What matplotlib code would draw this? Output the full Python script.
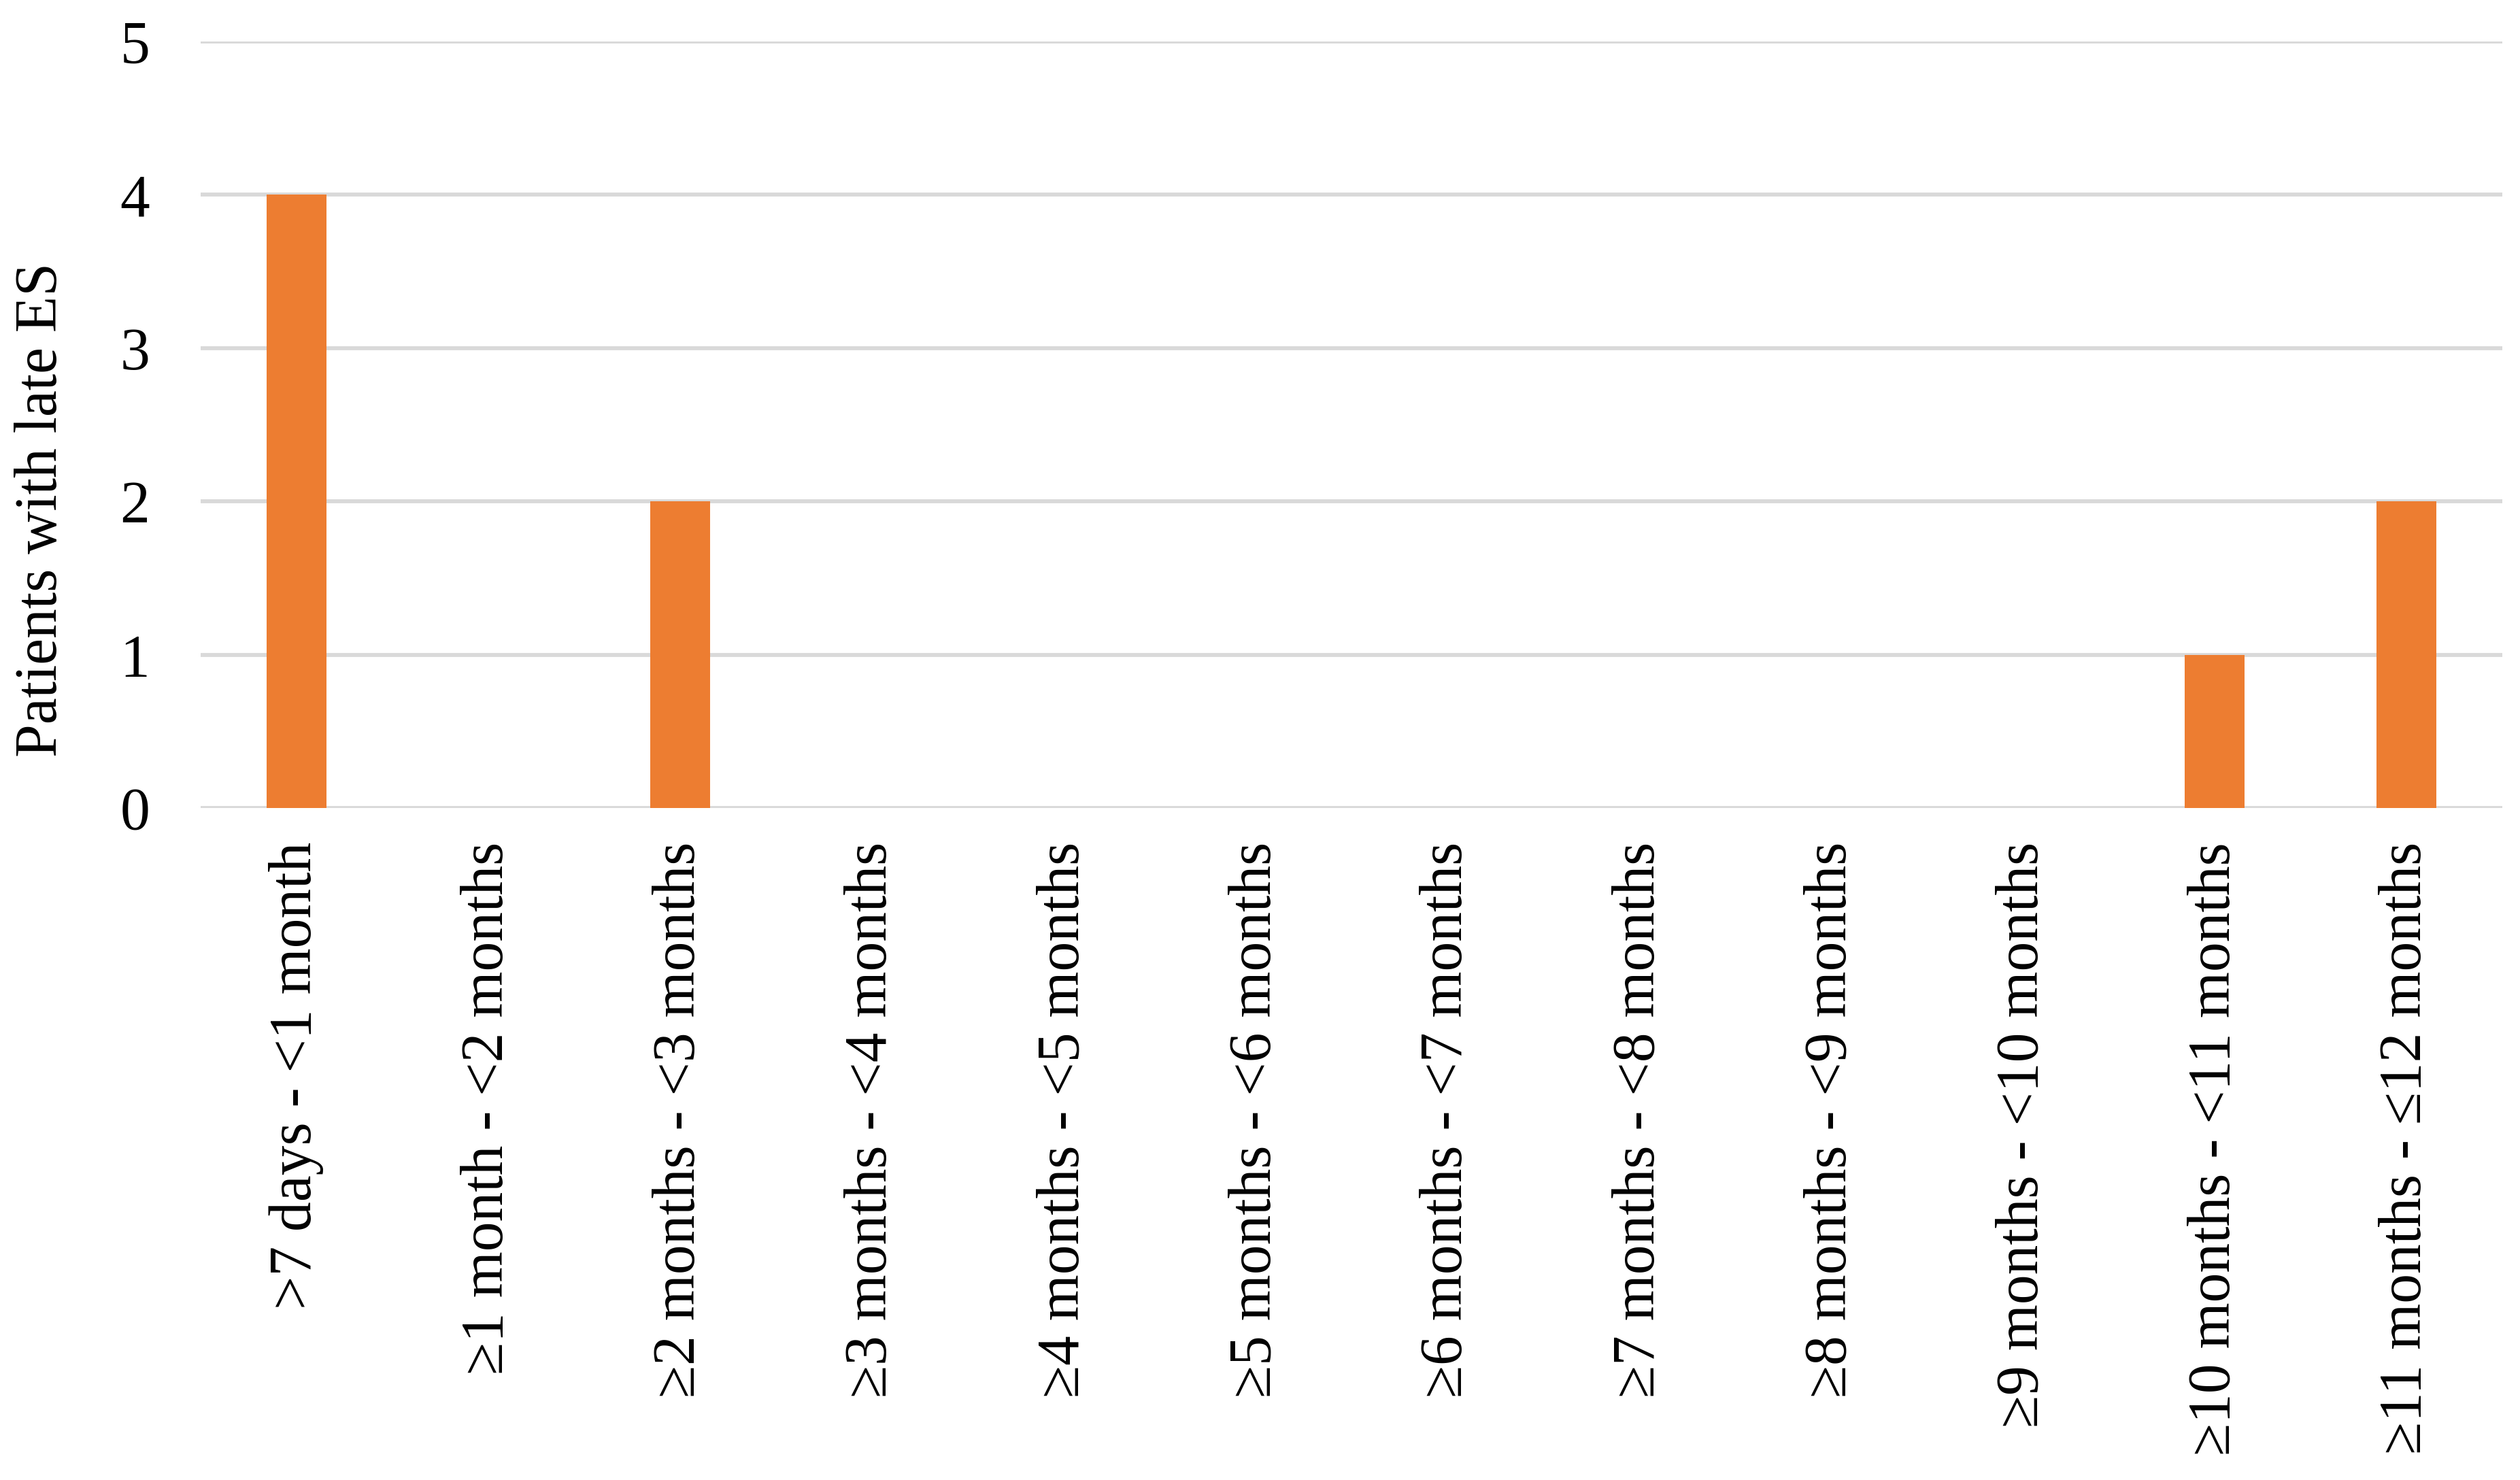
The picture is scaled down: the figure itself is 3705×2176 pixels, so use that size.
import matplotlib
matplotlib.use("Agg")
import matplotlib.pyplot as plt

plt.rcParams['font.family'] = ['Liberation Serif', 'DejaVu Serif']

categories = [
    ">7 days - <1 month",
    "≥1 month - <2 months",
    "≥2 months - <3 months",
    "≥3 months - <4 months",
    "≥4 months - <5 months",
    "≥5 months - <6 months",
    "≥6 months - <7 months",
    "≥7 months - <8 months",
    "≥8 months - <9 months",
    "≥9 months - <10 months",
    "≥10 months - <11 months",
    "≥11 months - ≤12 months",
]
patients = [4, 0, 2, 0, 0, 0, 0, 0, 0, 0, 1, 2]
yticks = [0, 1, 2, 3, 4, 5]
ylabel = "Patients with late ES"

W, H, DPI = 3705, 2176, 300
fig = plt.figure(figsize=(W / DPI, H / DPI), dpi=DPI)
ax = fig.add_axes([295 / W, 1 - 1188 / H, (3679 - 295) / W, (1188 - 61) / H])

x = list(range(len(categories)))
ax.bar(x, patients, width=0.315, color="#ED7D31", zorder=3)

ax.set_xlim(-0.5, len(categories) - 0.5)
ax.set_ylim(0, 5)
ax.set_yticks(yticks)
ax.set_yticklabels([str(t) for t in yticks], fontsize=21)
ax.set_xticks(x)
ax.set_xticklabels(categories, rotation=90, fontsize=21, ha="center", va="top")
ax.tick_params(axis="y", length=0, pad=18)
ax.tick_params(axis="x", length=0, pad=12)

ax.grid(axis="y", color="#D9D9D9", linewidth=1.4, zorder=0)
ax.set_axisbelow(True)
for s in ax.spines.values():
    s.set_visible(False)

fig.text(62 / W, 1 - 750 / H, ylabel, rotation=90, ha="center", va="center", fontsize=21)

fig.savefig("out.png", dpi=DPI, facecolor="white")
